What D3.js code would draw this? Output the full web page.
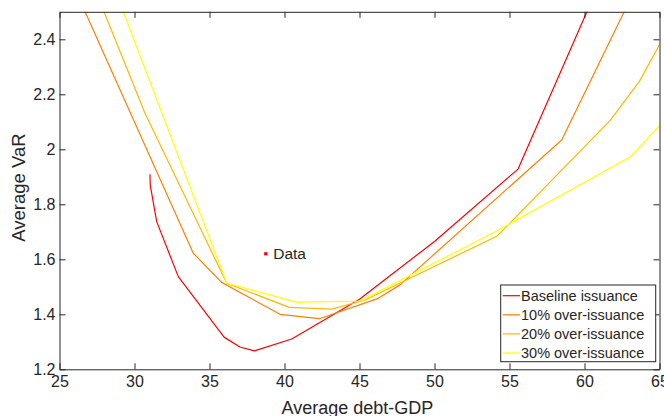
<!DOCTYPE html>
<html>
<head>
<meta charset="utf-8">
<script src="https://cdn.jsdelivr.net/npm/d3@7"></script>
<style>
  html, body { margin: 0; padding: 0; background: #fff; }
  svg { display: block; }
  text { font-family: "Liberation Sans", Arial, Helvetica, sans-serif; fill: #262626; }
</style>
</head>
<body>
<svg id="chart" width="664" height="416"></svg>
<script>
// ---- data ----
const seriesNames = ["Baseline issuance", "10% over-issuance", "20% over-issuance", "30% over-issuance"];
const seriesColors = ["#ff0000", "#ff8000", "#ffb800", "#ffff00"];

const baselineX = [31.03, 31.05, 31.48, 32.92, 35.97, 37.03, 37.99, 40.48, 45.0, 50.0, 55.57, 60.4];
const baselineY = [1.909, 1.870, 1.737, 1.537, 1.317, 1.281, 1.267, 1.310, 1.455, 1.665, 1.928, 2.53];

const over10X = [26.0, 33.92, 35.81, 39.7, 42.32, 46.25, 47.7, 58.48, 63.0];
const over10Y = [2.586, 1.622, 1.516, 1.400, 1.384, 1.458, 1.507, 2.034, 2.54];

const over20X = [27.5, 30.7, 36.15, 40.32, 43.15, 45.37, 54.19, 61.7, 63.65, 65.5];
const over20Y = [2.563, 2.131, 1.513, 1.425, 1.419, 1.452, 1.685, 2.104, 2.246, 2.43];

const over30X = [28.8, 36.15, 40.77, 45.03, 54.19, 63.08, 65.5];
const over30Y = [2.565, 1.513, 1.444, 1.448, 1.704, 1.973, 2.115];

const dataPointX = [38.75];
const dataPointY = [1.62];
const dataLabel = "Data";

const xTicks = [25, 30, 35, 40, 45, 50, 55, 60, 65];
const yTicks = [1.2, 1.4, 1.6, 1.8, 2, 2.2, 2.4];
const xDomain = [25, 65];
const yDomain = [1.2, 2.5];
const xTitle = "Average debt-GDP";
const yTitle = "Average VaR";

// ---- layout ----
const svg = d3.select("#chart");
const L = 59.5, R = 659.5, T = 11.8, B = 369.3;
const x = d3.scaleLinear().domain(xDomain).range([L, R]);
const y = d3.scaleLinear().domain(yDomain).range([B, T]);
const axisColor = "#262626";

svg.append("defs").append("clipPath").attr("id", "clip")
  .append("rect").attr("x", L).attr("y", T).attr("width", R - L).attr("height", B - T);

const series = [
  { xs: baselineX, ys: baselineY },
  { xs: over10X, ys: over10Y },
  { xs: over20X, ys: over20Y },
  { xs: over30X, ys: over30Y }
];

const line = d3.line().x(d => x(d[0])).y(d => y(d[1]));
const plot = svg.append("g").attr("clip-path", "url(#clip)");
series.forEach((s, i) => {
  plot.append("path")
    .attr("d", line(d3.zip(s.xs, s.ys)))
    .attr("fill", "none")
    .attr("stroke", seriesColors[i])
    .attr("stroke-width", 1.2)
    .attr("stroke-linejoin", "round");
});

// data point + label
const pts = d3.zip(dataPointX, dataPointY);
plot.selectAll("rect.dp").data(pts).enter().append("rect")
  .attr("x", d => x(d[0]) - 1.6).attr("y", d => y(d[1]) - 1.6)
  .attr("width", 3.2).attr("height", 3.2).attr("fill", "#ff0000");
svg.selectAll("text.dl").data(pts).enter().append("text")
  .attr("x", d => x(d[0]) + 7.5).attr("y", d => y(d[1]) + 5.5)
  .attr("font-size", 15.5).text(dataLabel);

// axes
function styleAxis(g) {
  g.selectAll("path.domain").attr("stroke", axisColor);
  g.selectAll(".tick line").attr("stroke", axisColor);
  g.selectAll(".tick text").attr("fill", axisColor).attr("font-size", 16)
    .attr("font-family", "'Liberation Sans', Arial, sans-serif");
}
const fmtY = d => d3.format("")(+d.toFixed(1));

svg.append("g").attr("transform", `translate(0,${B})`)
  .call(d3.axisBottom(x).tickValues(xTicks).tickSizeInner(-6).tickSizeOuter(0).tickPadding(6).tickFormat(d3.format("d")))
  .call(styleAxis);
svg.append("g").attr("transform", `translate(0,${T})`)
  .call(d3.axisTop(x).tickValues(xTicks).tickSizeInner(-6).tickSizeOuter(0).tickFormat(""))
  .call(styleAxis);
svg.append("g").attr("transform", `translate(${L},0)`)
  .call(d3.axisLeft(y).tickValues(yTicks).tickSizeInner(-6).tickSizeOuter(0).tickPadding(4).tickFormat(fmtY))
  .call(styleAxis);
svg.append("g").attr("transform", `translate(${R},0)`)
  .call(d3.axisRight(y).tickValues(yTicks).tickSizeInner(-6).tickSizeOuter(0).tickFormat(""))
  .call(styleAxis);

// axis titles
svg.append("text").attr("x", (L + R) / 2 - 2).attr("y", 414)
  .attr("text-anchor", "middle").attr("font-size", 18).text(xTitle);
svg.append("text").attr("transform", `translate(25,${(T + B) / 2 - 3}) rotate(-90)`)
  .attr("text-anchor", "middle").attr("font-size", 18.5).text(yTitle);

// legend
const lg = svg.append("g");
lg.append("rect").attr("x", 500.7).attr("y", 285).attr("width", 155).attr("height", 76.7)
  .attr("fill", "#fff").attr("stroke", axisColor).attr("stroke-width", 1);
seriesNames.forEach((name, i) => {
  const cy = 295.7 + i * 19.1;
  lg.append("line").attr("x1", 502.7).attr("x2", 520).attr("y1", cy).attr("y2", cy)
    .attr("stroke", seriesColors[i]).attr("stroke-width", 1.2);
  lg.append("text").attr("x", 521).attr("y", cy + 5).attr("font-size", 14.5).text(name);
});
</script>
</body>
</html>
